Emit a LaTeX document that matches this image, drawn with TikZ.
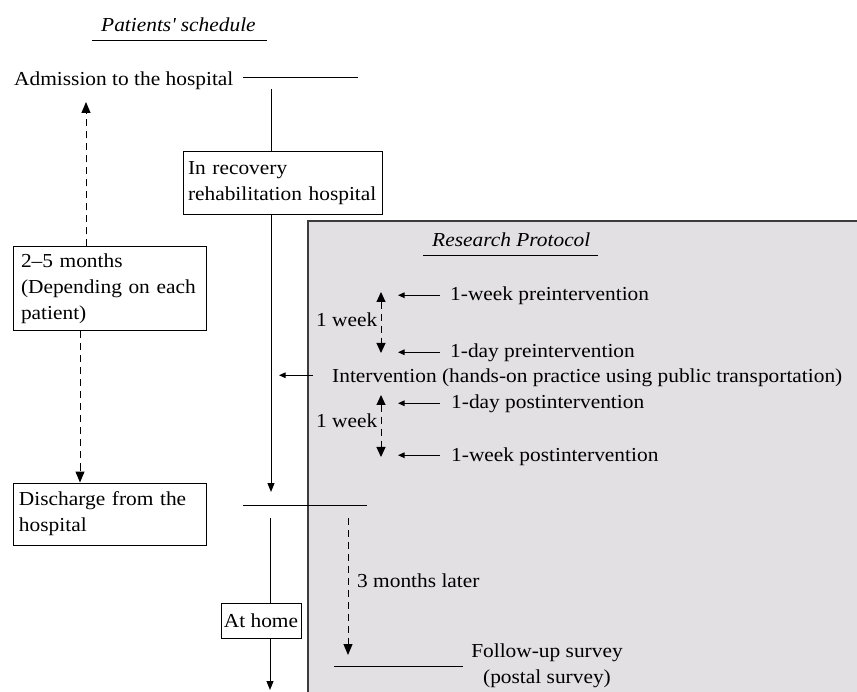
\documentclass[tikz,border=0pt]{standalone}
\usepackage{fontspec}
\setmainfont{Liberation Serif}[FakeStretch=1.08]
\usetikzlibrary{arrows.meta,calc}
\definecolor{protofill}{RGB}{226,224,226}
\definecolor{protoline}{RGB}{60,60,60}
\tikzset{
  txtfont/.style={font=\fontsize{19.8}{26}\selectfont},
  lbl/.style={txtfont, inner sep=0pt, anchor=base west},
  ital/.style={font=\fontsize{19.8}{26}\selectfont\itshape, inner sep=0pt, anchor=base west},
  boxnode/.style={draw, line width=1pt, txtfont, align=left, inner ysep=0pt},
  conn/.style={line width=1pt},
  bigtip/.style={-{Triangle[width=9pt,length=11pt]}},
  bothtip/.style={{Triangle[width=9pt,length=10pt]}-{Triangle[width=9pt,length=10pt]}},
  midtip/.style={-{Triangle[width=7pt,length=9pt]}},
  smalltip/.style={-{Triangle[width=5.5pt,length=6.5pt]}},
  dashline/.style={dash pattern=on 7pt off 5pt, line width=1pt},
}
\begin{document}
\begin{tikzpicture}[x=1pt,y=-1pt]
\useasboundingbox (0,0) rectangle (857,692);
% research protocol panel
\fill[protofill] (308,221) rectangle (857,692);
\draw[protoline, line width=1.1pt] (308,692) -- (308,221) -- (857,221);

% patients' schedule
\node[ital] (ps) at (101,32) {Patients\textquotesingle{} schedule};
\draw[conn] (92,41) -- (267,41);

\node[lbl] (adm) at (14,86) {Admission to the hospital};
\coordinate (a1) at (243,78);
\coordinate (a2) at (358,78);
\draw[conn] (a1) -- (a2);

\node[boxnode, text width=189pt, inner xsep=5pt, minimum height=63pt] (rec) at (282.5,183.5) {In recovery\\rehabilitation hospital};
\coordinate (v1) at (271,89);
\coordinate (v2) at (271,492);
\draw[conn] (v1) -- (v1 |- rec.north);
\draw[conn, midtip] (v1 |- rec.south) -- (v2);

\node[boxnode, text width=177pt, inner xsep=8pt, minimum height=84pt] (dur) at (109.5,289) {2–5 months\\(Depending on each\\patient)};
\node[boxnode, text width=181pt, inner xsep=6pt, minimum height=62pt] (dis) at (109.5,514) {Discharge from the\\hospital};
\coordinate (t1) at (86,102);
\coordinate (t2) at (80,483);
\draw[dashline, bigtip] (t1 |- dur.north) -- (t1);
\draw[dashline, bigtip] (t2 |- dur.south) -- (t2 |- dis.north);

\coordinate (d1) at (243,505);
\coordinate (d2) at (367,505);
\draw[conn] (d1) -- (d2);

\node[boxnode, align=center, inner xsep=1pt, minimum width=80pt, minimum height=35pt] (home) at (261,620.5) {At home};
\coordinate (v3) at (270,518);
\coordinate (v4) at (270,690);
\draw[conn] (v3) -- (v3 |- home.north);
\draw[conn, midtip] (v3 |- home.south) -- (v4);

% research protocol
\node[ital] (rp) at (432,247) {Research Protocol};
\draw[conn] (423,256) -- (598,256);

\node[lbl] (w1) at (450,301) {1-week preintervention};
\node[lbl] (w2) at (450,358) {1-day preintervention};
\node[lbl] (intv) at (332,383) {Intervention (hands-on practice using public transportation)};
\node[lbl] (w3) at (451,409) {1-day postintervention};
\node[lbl] (w4) at (451,461) {1-week postintervention};
\node[lbl] (wk1) at (316,327) {1 week};
\node[lbl] (wk2) at (316,428) {1 week};

\coordinate (p1) at (381,292);
\coordinate (p2) at (381,353);
\coordinate (p3) at (381,395);
\coordinate (p4) at (381,457);
\draw[dashline, bothtip] (p1) -- (p2);
\draw[dashline, bothtip] (p3) -- (p4);

\draw[conn, smalltip] ($(w1.west)+(-10,-1)$) -- ($(w1.west)+(-52,-1)$);
\draw[conn, smalltip] ($(w2.west)+(-10,-1)$) -- ($(w2.west)+(-52,-1)$);
\draw[conn, smalltip] ($(w3.west)+(-11,-1)$) -- ($(w3.west)+(-53,-1)$);
\draw[conn, smalltip] ($(w4.west)+(-11,-1)$) -- ($(w4.west)+(-53,-1)$);
\draw[conn, smalltip] ($(intv.west)+(-19,-3)$) -- ($(intv.west)+(-53,-3)$);

\coordinate (m1) at (348,518);
\coordinate (m2) at (348,655);
\draw[dashline, bigtip] (m1) -- (m2);
\node[lbl] (tm) at (357,587) {3 months later};

\coordinate (f1) at (334,666);
\coordinate (f2) at (463,666);
\draw[conn] (f1) -- (f2);
\node[txtfont, align=center, inner sep=0pt] (fu) at (547,666) {Follow-up survey\\(postal survey)};
\end{tikzpicture}
\end{document}
